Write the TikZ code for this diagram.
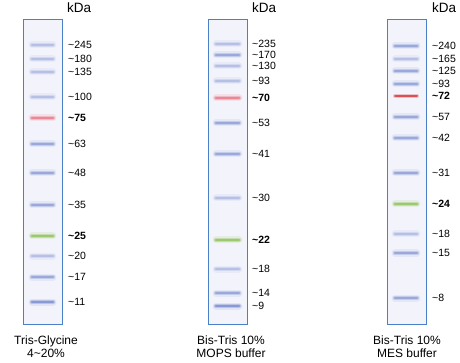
\documentclass[tikz,border=0pt]{standalone}
\usepackage{fontspec}
\setmainfont{Liberation Sans}
\definecolor{gelblue}{RGB}{74,128,200}
\definecolor{gelfill}{RGB}{243,244,251}
\definecolor{bfaint}{RGB}{160,174,222}
\definecolor{bmid}{RGB}{122,142,206}
\definecolor{bstrong}{RGB}{96,120,200}
\definecolor{bred}{RGB}{232,96,116}
\definecolor{bred2}{RGB}{216,50,56}
\definecolor{bgreen}{RGB}{124,186,56}
\tikzset{
  gel/.style={draw=gelblue, line width=1.3pt, fill=gelfill},
  bandglow/.style={line width=7pt, line cap=round, opacity=0.12},
  bandmid/.style={line width=4.5pt, line cap=round, opacity=0.3},
  bandcore/.style={line width=2.2pt, line cap=round, opacity=0.55},
  lbl/.style={anchor=west, inner sep=0pt, font=\fontsize{10.5}{12}\selectfont},
  blbl/.style={lbl, font=\fontsize{10.5}{12}\selectfont\bfseries},
  unit/.style={anchor=west, inner sep=0pt, font=\fontsize{13.5}{15}\selectfont},
  captxt/.style={align=center, inner sep=0pt, font=\fontsize{12}{13}\selectfont}
}
\newcommand{\myband}[4]{% x1,x2,y,color
  \draw[bandglow, draw=#4] (#1,#3) -- (#2,#3);
  \draw[bandmid, draw=#4] (#1,#3) -- (#2,#3);
  \draw[bandcore, draw=#4] (#1,#3) -- (#2,#3);
}
\begin{document}
\begin{tikzpicture}[x=1pt,y=-1pt]
\useasboundingbox[fill=white] (0,0) rectangle (460,363);
% ---------- Lane 1 ----------
\node[gel, rectangle, minimum width=39pt, minimum height=305pt, anchor=north west, inner sep=0pt] (gel1) at (23,19) {};
\foreach \y/\c in {45/bfaint,59/bfaint,72/bfaint,97/bfaint,118/bred,144/bmid,173/bmid,205/bmid,236/bgreen,256/bfaint,277/bmid,302/bstrong}{
  \myband{32}{53}{\y}{\c}
}
\node[unit] (kda1) at (67,8) {kDa};
\foreach \y/\t in {45/245,59/180,72/135,97/100,144/63,173/48,205/35,256/20,277/17,302/11}{
  \node[lbl] (l1-\t) at (68,\y) {\textasciitilde\t};
}
\node[blbl] (l1-75) at (68,118) {\textasciitilde75};
\node[blbl] (l1-25) at (68,236) {\textasciitilde25};
\node[captxt] (c1) at (46,347) {Tris-Glycine\\4\textasciitilde20\%};
% ---------- Lane 2 ----------
\node[gel, rectangle, minimum width=39pt, minimum height=305pt, anchor=north west, inner sep=0pt] (gel2) at (208,19) {};
\foreach \y/\c in {44/bfaint,55/bmid,66/bfaint,81/bfaint,98/bred,123/bmid,154/bmid,198/bfaint,240/bgreen,269/bfaint,293/bmid,306/bstrong}{
  \myband{216}{239}{\y}{\c}
}
\node[unit] (kda2) at (252,8) {kDa};
\foreach \y/\t in {44/235,55/170,66/130,81/93,123/53,154/41,198/30,269/18,293/14,306/9}{
  \node[lbl] (l2-\t) at (252,\y) {\textasciitilde\t};
}
\node[blbl] (l2-70) at (252,98) {\textasciitilde70};
\node[blbl] (l2-22) at (252,240) {\textasciitilde22};
\node[captxt] (c2) at (231,347) {Bis-Tris 10\%\\MOPS buffer};
% ---------- Lane 3 ----------
\node[gel, rectangle, minimum width=39pt, minimum height=305pt, anchor=north west, inner sep=0pt] (gel3) at (387,19) {};
\foreach \y/\c in {46/bmid,59/bfaint,71/bmid,84/bmid,117/bmid,138/bmid,173/bmid,204/bgreen,234/bfaint,253/bmid,298/bmid}{
  \myband{395}{417}{\y}{\c}
}
\draw[line width=4pt, line cap=round, opacity=0.25, draw=bred2] (395,96) -- (417,96);
\draw[line width=2pt, line cap=round, opacity=0.8, draw=bred2] (395,96) -- (417,96);
\node[unit] (kda3) at (432,8) {kDa};
\foreach \y/\t in {46/240,59/165,71/125,84/93,117/57,138/42,173/31,234/18,253/15,298/8}{
  \node[lbl] (l3-\t) at (432,\y) {\textasciitilde\t};
}
\node[blbl] (l3-72) at (432,96) {\textasciitilde72};
\node[blbl] (l3-24) at (432,204) {\textasciitilde24};
\node[captxt] (c3) at (407,347) {Bis-Tris 10\%\\MES buffer};
\end{tikzpicture}
\end{document}
